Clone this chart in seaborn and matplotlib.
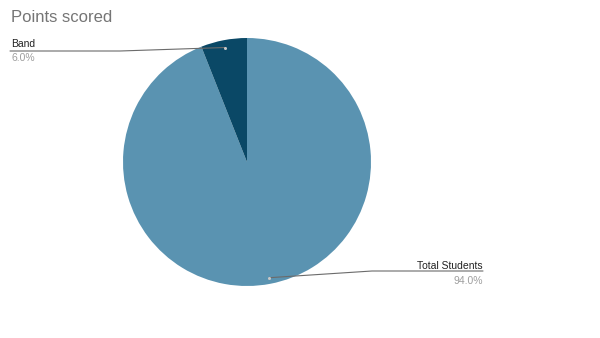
import numpy as np
import matplotlib
matplotlib.use("Agg")
import matplotlib.pyplot as plt
import seaborn as sns

title = "Points scored"
labels = ["Total Students", "Band"]
values = [94.0, 6.0]
pct_labels = ["94.0%", "6.0%"]
colors = ["#5a93b1", "#0a4866"]

sns.set_theme(style="white")
plt.rcParams['font.family'] = ['Liberation Sans', 'DejaVu Sans']

W, H = 600, 338
fig = plt.figure(figsize=(6, 3.38), dpi=100)
ax = fig.add_axes([0, 0, 1, 1])

cx, cy, R = 247, H - 162, 124
wedges, _ = ax.pie(values, colors=sns.color_palette(colors), startangle=90,
                   counterclock=False, center=(cx, cy), radius=R,
                   wedgeprops=dict(linewidth=0), frame=True)
ax.set_xlim(0, W)
ax.set_ylim(0, H)
ax.set_aspect("equal")
ax.axis("off")

fig.text(11 / W, 1 - 18 / H, title, fontsize=12, color="#757575", va="center", ha="left")

line_col = "#6b6b6b"
for i, w in enumerate(wedges):
    mid = np.deg2rad((w.theta1 + w.theta2) / 2)
    rr = 0.94 * R if i == 1 else 0.95 * R
    dx, dy = cx + rr * np.cos(mid), cy + rr * np.sin(mid)
    ax.plot([dx], [dy], marker="o", ms=2.2, color="#c8c8c8", mec="none", zorder=5)
    if i == 1:
        ax.plot([dx, 120, 10], [dy, H - 51, H - 51], color=line_col, lw=0.8, zorder=4)
        ax.text(11, H - 44, labels[i], fontsize=7.5, color="#222222", ha="left", va="center")
        ax.text(11, H - 58, pct_labels[i], fontsize=7.5, color="#9e9e9e", ha="left", va="center")
    else:
        ax.plot([dx, 372, 483], [dy, H - 271, H - 271], color=line_col, lw=0.8, zorder=4)
        ax.text(483, H - 266, labels[i], fontsize=7.5, color="#222222", ha="right", va="center")
        ax.text(483, H - 281, pct_labels[i], fontsize=7.5, color="#9e9e9e", ha="right", va="center")

fig.savefig("out.png", dpi=100, facecolor="white")
